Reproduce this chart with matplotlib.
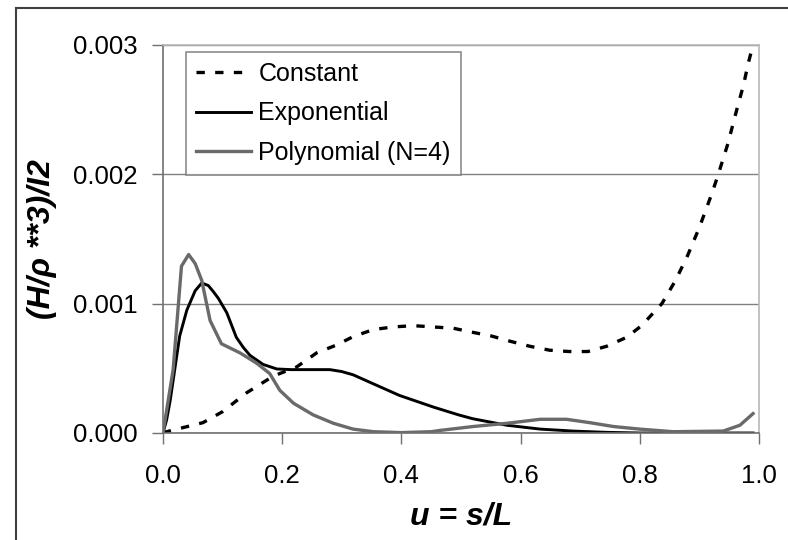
import matplotlib
matplotlib.use("Agg")
import matplotlib.pyplot as plt
from matplotlib.lines import Line2D

plt.rcParams['font.family'] = ['Liberation Sans', 'DejaVu Sans']

# ---- data (values in units of 1e-3) ----
const_u = [0.0, 0.006, 0.067, 0.10, 0.14, 0.185, 0.224, 0.258, 0.291, 0.319, 0.353, 0.386,
           0.42, 0.453, 0.487, 0.518, 0.551, 0.582, 0.616, 0.649, 0.681, 0.713, 0.744, 0.778,
           0.803, 0.837, 0.86, 0.88, 0.90, 0.92, 0.931, 0.948, 0.957, 0.965, 0.974, 0.982, 0.99]
const_v = [0.0, 0.01, 0.08, 0.165, 0.31, 0.44, 0.51, 0.62, 0.68, 0.745, 0.80, 0.82,
           0.83, 0.82, 0.81, 0.78, 0.75, 0.71, 0.67, 0.64, 0.63, 0.63, 0.67, 0.74,
           0.83, 1.0, 1.18, 1.37, 1.59, 1.84, 1.99, 2.24, 2.40, 2.54, 2.69, 2.86, 3.0]

exp_u = [0.0, 0.006, 0.012, 0.02, 0.028, 0.04, 0.054, 0.065, 0.076, 0.085, 0.093, 0.107,
         0.123, 0.135, 0.146, 0.168, 0.191, 0.215, 0.241, 0.28, 0.30, 0.319, 0.353, 0.397,
         0.454, 0.496, 0.52, 0.577, 0.633, 0.688, 0.744, 0.80, 0.99]
exp_v = [0.0, 0.10, 0.25, 0.5, 0.75, 0.95, 1.10, 1.16, 1.14, 1.09, 1.04, 0.93,
         0.74, 0.66, 0.60, 0.53, 0.495, 0.49, 0.49, 0.49, 0.475, 0.45, 0.38, 0.29,
         0.20, 0.14, 0.11, 0.06, 0.03, 0.015, 0.005, 0.0, 0.0]

poly_u = [0.0, 0.017, 0.031, 0.043, 0.054, 0.065, 0.079, 0.098, 0.129, 0.157, 0.179, 0.196,
          0.219, 0.252, 0.286, 0.319, 0.353, 0.40, 0.45, 0.465, 0.52, 0.577, 0.633, 0.677,
          0.716, 0.756, 0.80, 0.856, 0.94, 0.968, 0.99]
poly_v = [0.0, 0.49, 1.29, 1.38, 1.31, 1.18, 0.87, 0.69, 0.62, 0.54, 0.46, 0.33,
          0.23, 0.14, 0.075, 0.03, 0.01, 0.003, 0.01, 0.02, 0.05, 0.075, 0.106, 0.106,
          0.08, 0.05, 0.03, 0.01, 0.015, 0.06, 0.15]

labels = ["Constant", "Exponential", "Polynomial (N=4)"]
xticks = [0.0, 0.2, 0.4, 0.6, 0.8, 1.0]
yticks = [0.000, 0.001, 0.002, 0.003]

fig = plt.figure(figsize=(7.88, 5.40), dpi=100)
ax = fig.add_axes([163/788, 1 - 433/540, (759 - 163)/788, (433 - 45)/540])

sc = 1e-3
ax.plot(const_u, [v * sc for v in const_v], color='black', lw=2.4, ls=(0, (2.5, 3.1)),
        label=labels[0], dash_capstyle='butt')
ax.plot(exp_u, [v * sc for v in exp_v], color='black', lw=2.1, label=labels[1],
        solid_joinstyle='round')
ax.plot(poly_u, [v * sc for v in poly_v], color='#6a6a6a', lw=2.4, label=labels[2],
        solid_joinstyle='round')

ax.set_xlim(0, 1.0)
ax.set_ylim(0, 0.003)
ax.set_xticks(xticks)
ax.set_xticklabels([f"{t:.1f}" for t in xticks], fontsize=18.5)
ax.set_yticks(yticks)
ax.set_yticklabels([f"{t:.3f}" for t in yticks], fontsize=18.5)
ax.tick_params(axis='x', direction='out', length=8, width=1, color='#707070', pad=14)
ax.tick_params(axis='y', direction='out', length=8, width=1, color='#707070', pad=10)

ax.yaxis.grid(True, color='#808080', lw=1)
ax.set_axisbelow(True)
for s in ['left', 'bottom']:
    ax.spines[s].set_color('#707070')
    ax.spines[s].set_linewidth(1.2)
for s in ['top', 'right']:
    ax.spines[s].set_color('#b8b8b8')
    ax.spines[s].set_linewidth(1.2)

ax.set_xlabel("u = s/L", fontsize=23, fontweight='bold', fontstyle='italic', labelpad=10)
ax.set_ylabel("(H/ρ **3)/I2", fontsize=23, fontweight='bold', fontstyle='italic', labelpad=12)

leg = ax.legend(loc='upper left', bbox_to_anchor=((186 - 163)/596, 1 - (52 - 45)/388),
                fontsize=18, frameon=True, fancybox=False, borderaxespad=0,
                handlelength=2.2, handletextpad=0.3, labelspacing=0.62, borderpad=0.4)
leg.get_frame().set_edgecolor('#707070')
leg.get_frame().set_linewidth(1.2)

# outer chart frame
fig.add_artist(Line2D([16/788, 16/788], [0, 1 - 8/540], color='#404040', lw=1.5))
fig.add_artist(Line2D([16/788, 1], [1 - 8/540, 1 - 8/540], color='#404040', lw=1.5))

fig.savefig("out.png", dpi=100)
